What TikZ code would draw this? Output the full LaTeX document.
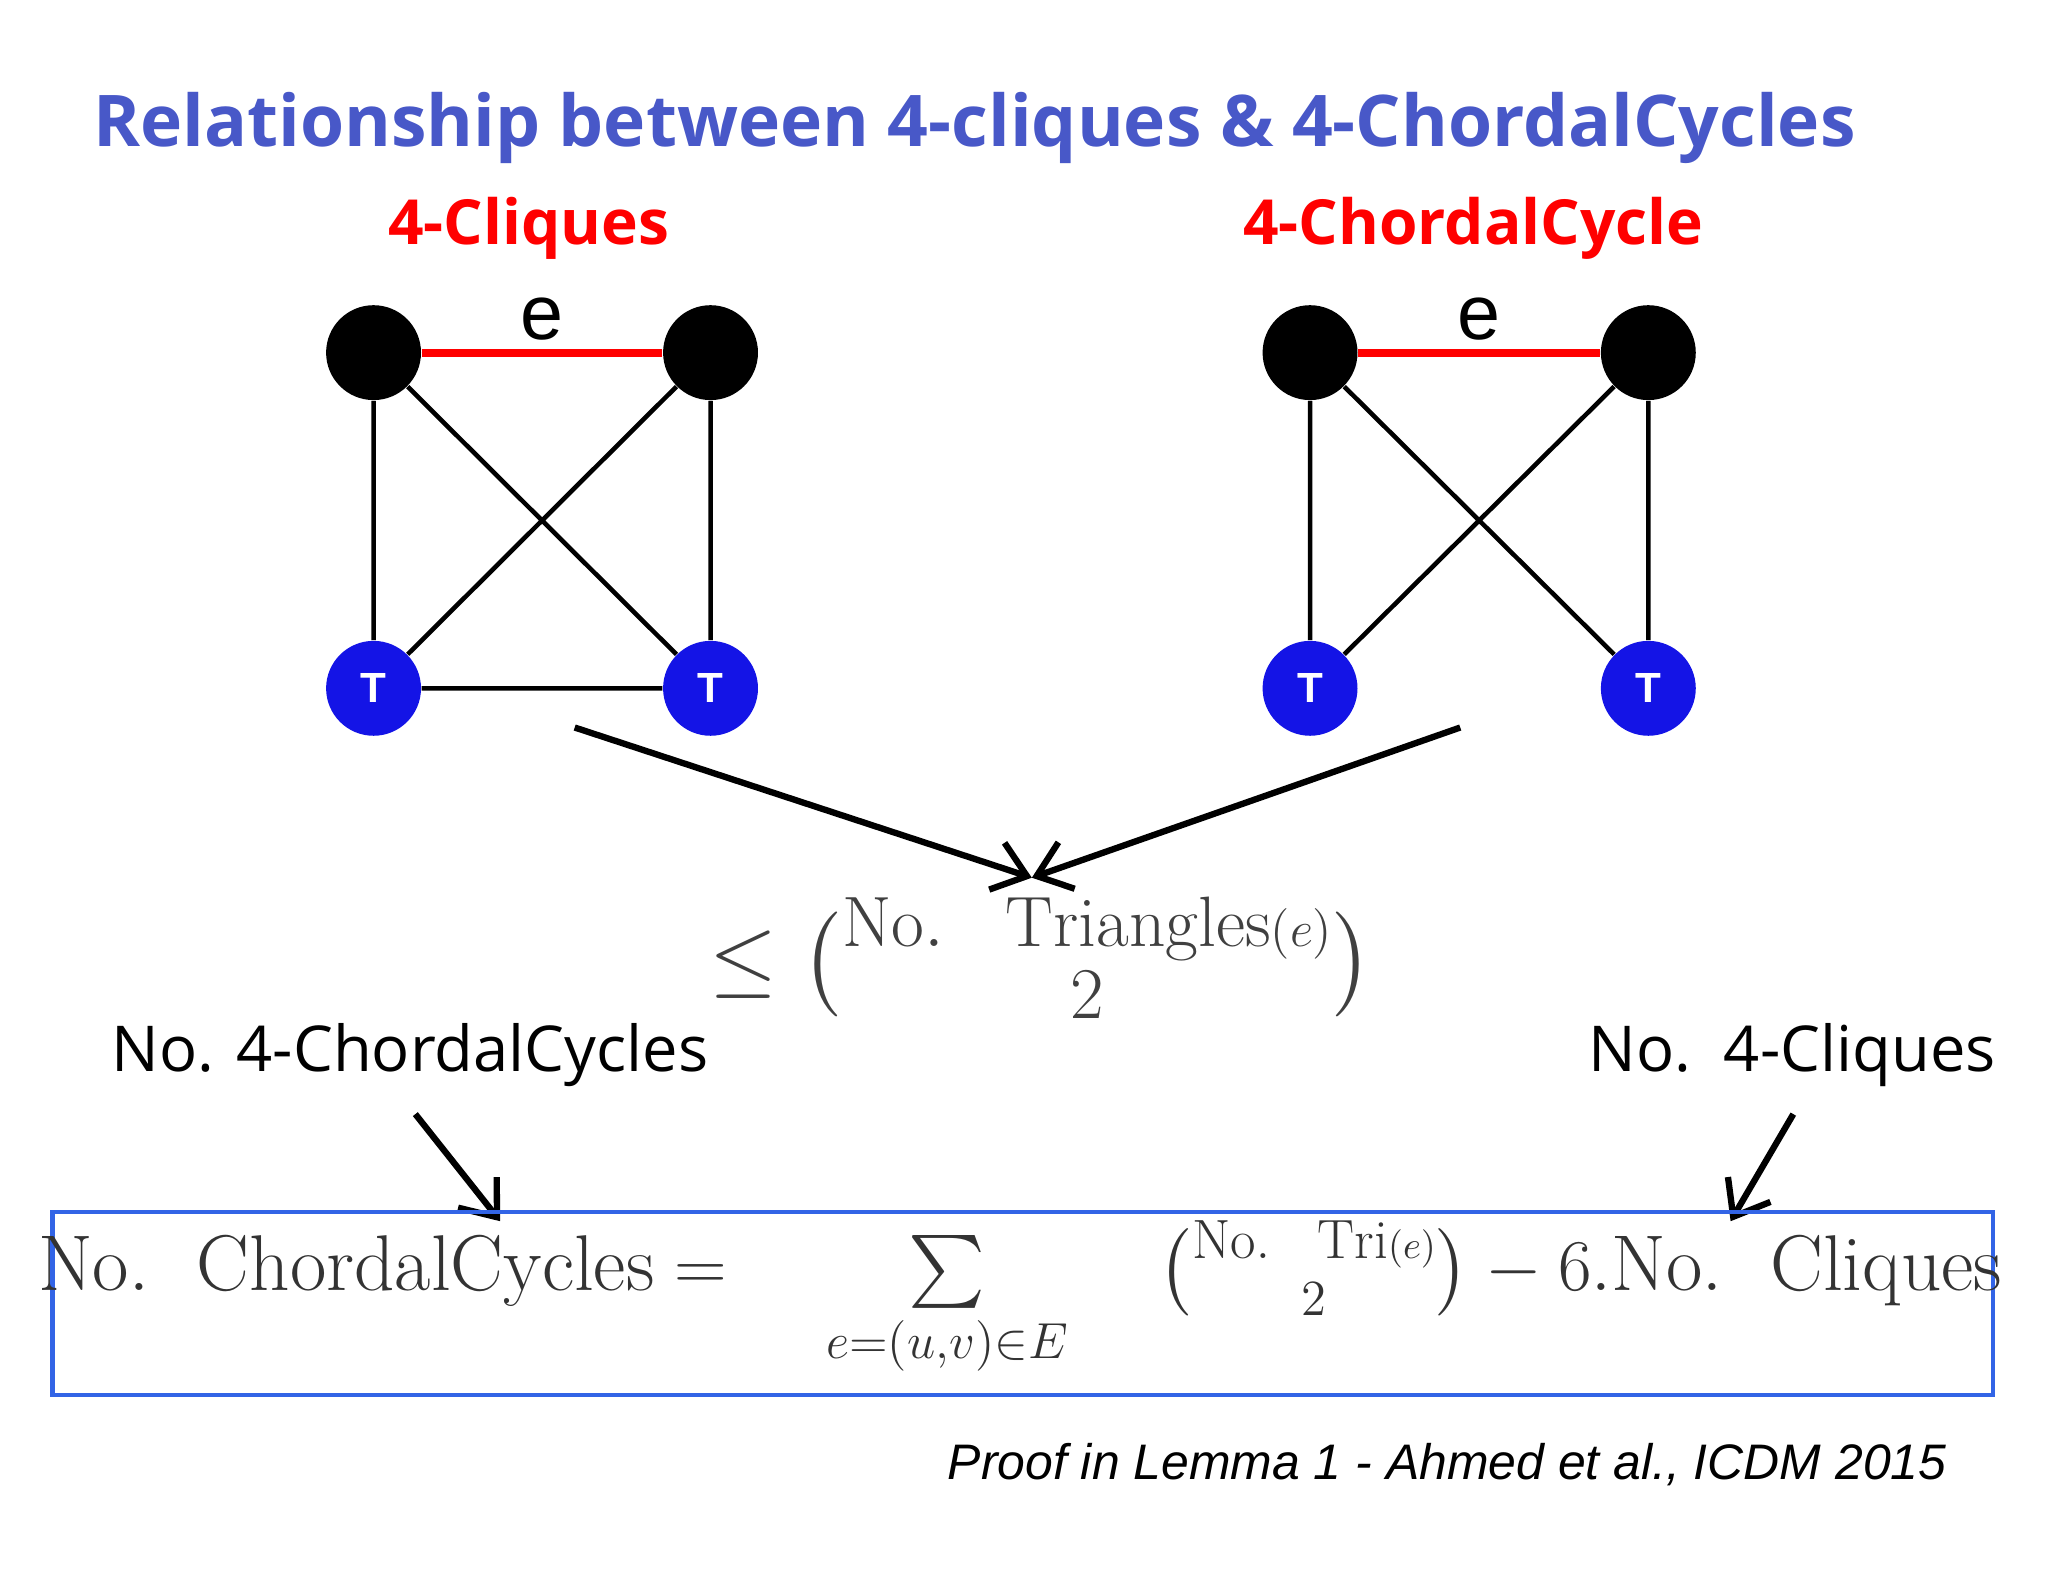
\documentclass[tikz,border=0pt]{standalone}
\usepackage{amsmath}
\usepackage{fontspec}
\usetikzlibrary{arrows.meta}
\newfontfamily\osans{Open Sans}
\newfontfamily\lsans{Liberation Sans}
\definecolor{ttl}{RGB}{72,88,200}
\definecolor{bluenode}{RGB}{20,20,230}
\definecolor{boxblue}{RGB}{50,100,230}
\begin{document}
\begin{tikzpicture}[x=0.3716pt,y=-0.3716pt,
  blk/.style={circle,fill=black,minimum size=27pt,inner sep=0pt},
  tn/.style={circle,fill=bluenode,minimum size=27pt,inner sep=0pt,text=white,font=\lsans\bfseries\large},
  ed/.style={line width=1.3pt},
  red/.style={line width=2.2pt,draw=red},
  arr/.style={line width=1.8pt,-{Straight Barb[length=9pt,width=14pt,line width=1.8pt]}}]
\useasboundingbox (0,0) rectangle (1568,1211);
\node[font=\osans\bfseries\fontsize{20.3}{24}\selectfont,text=ttl] (title) at (746,98) {Relationship between 4-cliques \& 4-ChordalCycles};
\node[font=\osans\bfseries\fontsize{17.7}{21}\selectfont,text=red] (l1) at (405,175) {4-Cliques};
\node[font=\osans\bfseries\fontsize{17.7}{21}\selectfont,text=red] (l2) at (1128,175) {4-ChordalCycle};
% left graph
\node[blk] (a1) at (286,270) {};
\node[blk] (a2) at (544,270) {};
\node[tn] (a3) at (286,527) {T};
\node[tn] (a4) at (544,527) {T};
\draw[red] (a1) -- (a2) node[midway,above=-1pt,text=black,font=\lsans\fontsize{22}{24}\selectfont] (e1) {e};
\draw[ed] (a1)--(a3) (a2)--(a4) (a1)--(a4) (a2)--(a3) (a3)--(a4);
% right graph
\node[blk] (b1) at (1003,270) {};
\node[blk] (b2) at (1262,270) {};
\node[tn] (b3) at (1003,527) {T};
\node[tn] (b4) at (1262,527) {T};
\draw[red] (b1) -- (b2) node[midway,above=-1pt,text=black,font=\lsans\fontsize{22}{24}\selectfont] (e2) {e};
\draw[ed] (b1)--(b3) (b2)--(b4) (b1)--(b4) (b2)--(b3);
% formula top
\coordinate (s1) at (440,557);
\coordinate (s2) at (1118,557);
\coordinate (m) at (790,672);
\draw[arr] (s1)--(m);
\draw[arr] (s2)--(m);
\node[text=black!75,font=\fontsize{29}{34}\selectfont] (ineq) at (797,733) {$\leq \tbinom{\mathrm{No.\ \ Triangles}{\scriptscriptstyle(e)}}{2}$};
\node[font=\osans\fontsize{18}{22}\selectfont] (nc) at (314,808) {No. 4-ChordalCycles};
\node[font=\osans\fontsize{18}{22}\selectfont] (nq) at (1372,808) {No.\ \ 4-Cliques};
\coordinate (c1) at (318,853); \coordinate (c2) at (383,935);
\coordinate (d1) at (1373,853); \coordinate (d2) at (1325,935);
\draw[arr] (c1)--(c2);
\draw[arr] (d1)--(d2);
\draw[boxblue,line width=1.3pt] (40,928) rectangle (1526,1068);
\node[text=black!80,font=\fontsize{22.5}{26}\selectfont] (f) at (781,995) {$\mathrm{No.\ \ ChordalCycles} = \quad\sum\limits_{e=(u,v)\in E}\quad \tbinom{\mathrm{No.\ \ Tri}{\scriptscriptstyle(e)}}{2} - 6.\mathrm{No.\ \ Cliques}$};
\node[font=\lsans\itshape\fontsize{14.2}{17}\selectfont] (cit) at (1108,1121) {Proof in Lemma 1 - Ahmed et al., ICDM 2015};
\end{tikzpicture}
\end{document}
